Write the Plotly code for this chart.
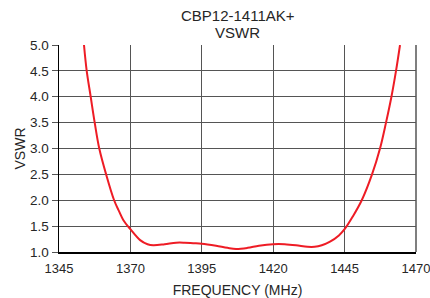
import plotly.graph_objects as go

freq = [1353.75, 1354.7, 1356.1, 1357.5, 1359.1, 1361.5, 1364.3, 1366.0, 1367.5, 1370, 1373.4, 1376, 1378,
        1382, 1386, 1389, 1392, 1395, 1400, 1404, 1407, 1411, 1415, 1420, 1424, 1428, 1432,
        1434.5, 1437, 1439.9, 1443, 1445, 1447.8, 1451.0, 1454.6, 1457.4, 1459.5, 1461.4, 1463.0, 1464.4]
vswr = [5.0, 4.5, 4.0, 3.5, 3.0, 2.5, 2.0, 1.79, 1.62, 1.44, 1.23, 1.15, 1.13,
        1.15, 1.18, 1.18, 1.17, 1.16, 1.12, 1.08, 1.06, 1.08, 1.12, 1.15, 1.15, 1.13, 1.10,
        1.10, 1.13, 1.20, 1.32, 1.44, 1.68, 2.0, 2.5, 3.0, 3.5, 4.0, 4.5, 5.0]

x_ticks = [1345, 1370, 1395, 1420, 1445, 1470]
y_ticks = [1.0, 1.5, 2.0, 2.5, 3.0, 3.5, 4.0, 4.5, 5.0]

fig = go.Figure()
fig.add_trace(go.Scatter(x=freq, y=vswr, mode="lines",
                         line=dict(color="#ee1c25", width=2, shape="spline", smoothing=1.0),
                         showlegend=False, hoverinfo="skip"))

font = dict(family="Liberation Sans, Arial, sans-serif", color="#262626")
fig.update_layout(
    width=430, height=298,
    margin=dict(l=59, r=14, t=45, b=46),
    paper_bgcolor="white", plot_bgcolor="white",
    font=dict(size=13, **font),
)
fig.add_annotation(text="CBP12-1411AK+", xref="paper", x=0.5, xanchor="center",
                   yref="paper", y=1 + (45 - 15.5) / 207, yanchor="middle",
                   showarrow=False, font=dict(size=15, **font))
fig.add_annotation(text="VSWR", xref="paper", x=0.5, xanchor="center",
                   yref="paper", y=1 + (45 - 33) / 207, yanchor="middle",
                   showarrow=False, font=dict(size=15, **font))
fig.update_xaxes(range=[1345, 1470], tickvals=x_ticks, ticktext=[str(t) for t in x_ticks],
                 showgrid=True, gridcolor="#555555", gridwidth=1,
                 showline=True, linecolor="black", linewidth=1.5,
                 ticks="", zeroline=False, automargin=False, ticklabelstandoff=4,
                 ticklabeloverflow="allow",
                 tickfont=dict(size=13, **font),
                 title=dict(text="FREQUENCY (MHz)", standoff=14, font=dict(size=14, **font)))
fig.update_yaxes(range=[1.0, 5.0], tickvals=y_ticks, ticktext=[f"{t:.1f}" for t in y_ticks],
                 showgrid=True, gridcolor="#555555", gridwidth=1,
                 showline=True, linecolor="black", linewidth=1.5,
                 ticks="outside", ticklen=6, tickcolor="#555555", tickwidth=1,
                 zeroline=False, automargin=False,
                 tickfont=dict(size=13.5, **font),
                 title=dict(text="VSWR", standoff=1, font=dict(size=14, **font)))
fig.add_shape(type="line", xref="paper", yref="paper", x0=1, x1=1, y0=0, y1=1,
              line=dict(color="#555555", width=1.5))
fig.write_html("out.html", config={"displayModeBar": False, "staticPlot": True},
               post_script="document.body.style.margin='0';document.body.style.overflow='hidden';")
